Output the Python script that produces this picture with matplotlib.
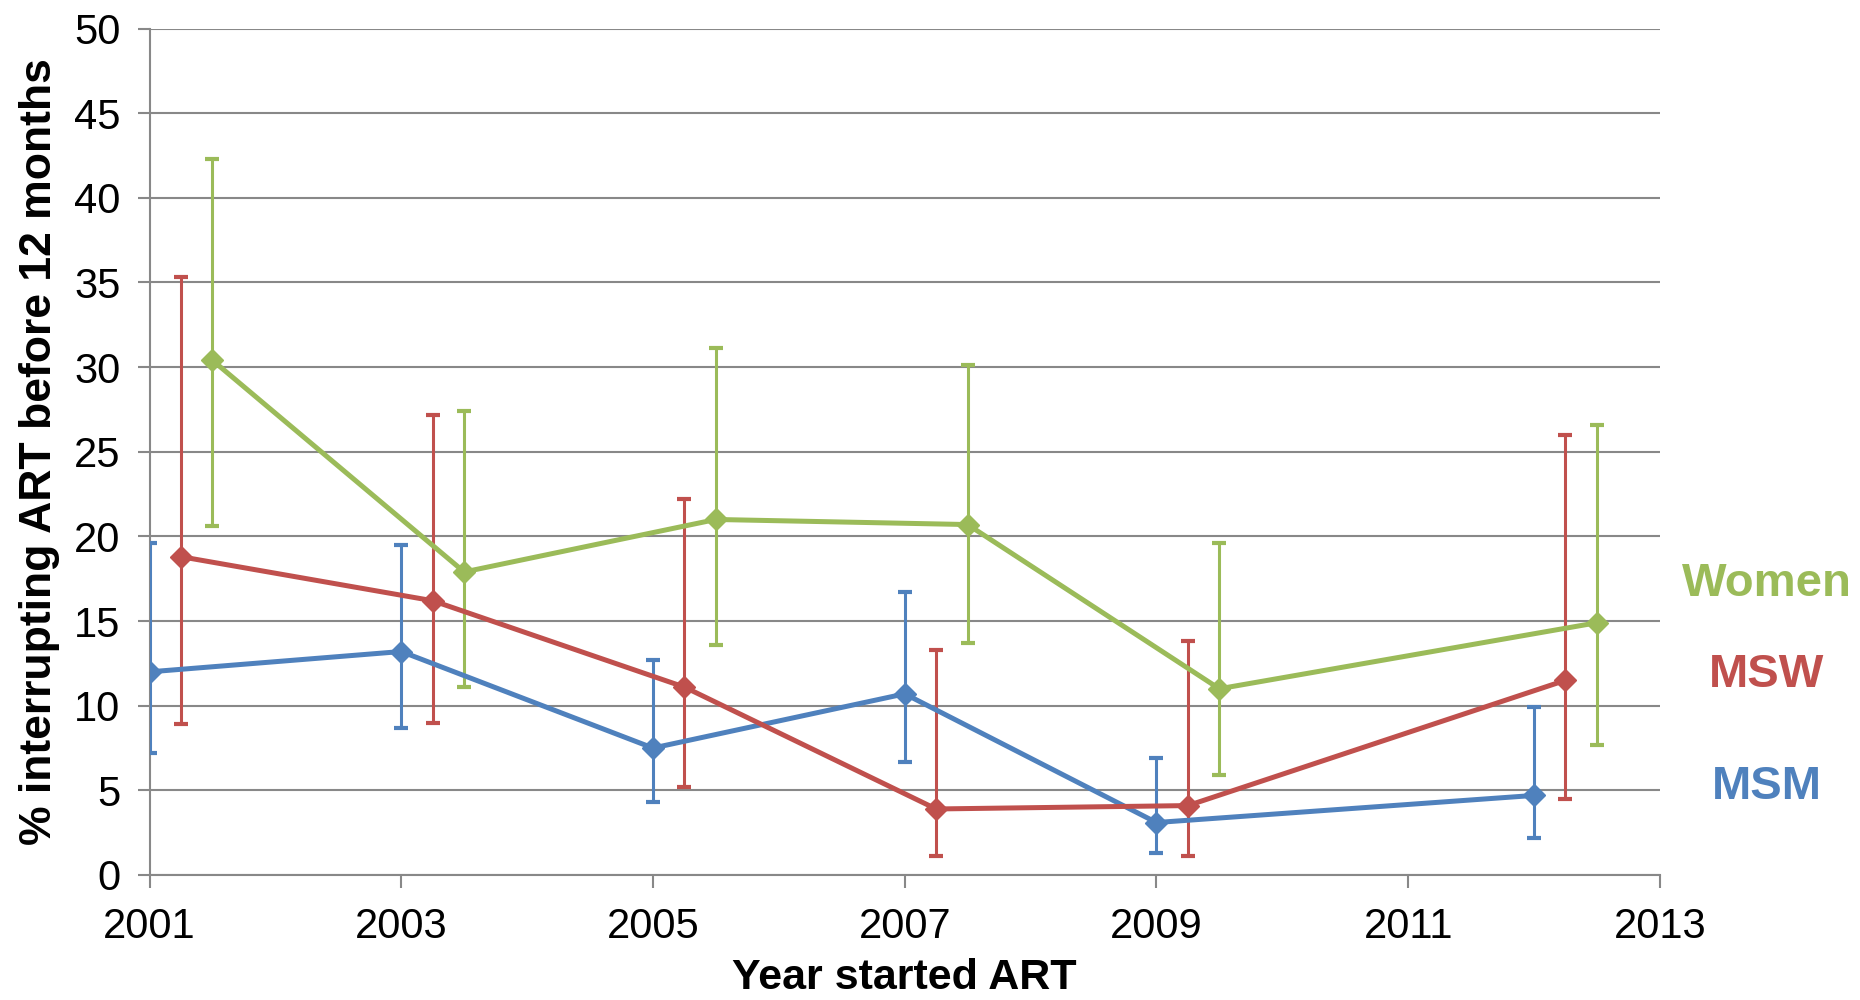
import numpy as np
import matplotlib.pyplot as plt

plt.rcParams["font.family"] = ["Liberation Sans", "DejaVu Sans"]

# year started ART (points are offset a little per group, as in the original)
msm_x = [2001, 2003, 2005, 2007, 2009, 2012]
msw_x = [2001.25, 2003.25, 2005.25, 2007.25, 2009.25, 2012.25]
women_x = [2001.5, 2003.5, 2005.5, 2007.5, 2009.5, 2012.5]

# % interrupting ART before 12 months, with 95% CI
msm_y = [12.0, 13.2, 7.5, 10.7, 3.1, 4.7]
msm_lo = [7.2, 8.7, 4.3, 6.7, 1.3, 2.2]
msm_hi = [19.6, 19.5, 12.7, 16.7, 6.9, 9.9]

msw_y = [18.8, 16.2, 11.1, 3.9, 4.1, 11.5]
msw_lo = [8.9, 9.0, 5.2, 1.1, 1.1, 4.5]
msw_hi = [35.3, 27.2, 22.2, 13.3, 13.8, 26.0]

women_y = [30.4, 17.9, 21.0, 20.7, 11.0, 14.9]
women_lo = [20.6, 11.1, 13.6, 13.7, 5.9, 7.7]
women_hi = [42.3, 27.4, 31.1, 30.1, 19.6, 26.6]

groups = [
    ("MSM", msm_x, msm_y, msm_lo, msm_hi, "#4F81BD", 5.2),
    ("MSW", msw_x, msw_y, msw_lo, msw_hi, "#C0504D", 11.8),
    ("Women", women_x, women_y, women_lo, women_hi, "#9BBB59", 17.2),
]

fig = plt.figure(figsize=(18.6, 10), dpi=100)
ax = fig.add_axes([0.0804, 0.125, 0.812, 0.8465])

for name, x, y, lo, hi, col, label_y in groups:
    y = np.array(y)
    yerr = [y - np.array(lo), np.array(hi) - y]
    ax.errorbar(x, y, yerr=yerr, color=col, lw=3.6, marker="D", ms=11,
                elinewidth=2.2, capsize=5, capthick=3, zorder=3)
    ax.text(2013.85, label_y, name, color=col, fontsize=34, fontweight="bold",
            ha="center", va="center", clip_on=False)

ax.set_xlim(2001, 2013)
ax.set_ylim(0, 50)
ax.set_xticks(range(2001, 2014, 2))
ax.set_yticks(range(0, 51, 5))
ax.yaxis.grid(True, color="#888888", lw=1.5)
ax.set_axisbelow(True)

for s in ["top", "right"]:
    ax.spines[s].set_visible(False)
for s in ["left", "bottom"]:
    ax.spines[s].set_color("#888888")
    ax.spines[s].set_linewidth(1.5)

ax.tick_params(axis="both", colors="#888888", labelcolor="black", labelsize=30,
               width=1.5, length=9)
ax.tick_params(axis="y", pad=12)
ax.tick_params(axis="x", pad=14)

ax.set_xlabel("Year started ART", fontsize=31, fontweight="bold", labelpad=8)
ax.set_ylabel("% interrupting ART before 12 months", fontsize=32,
              fontweight="bold", labelpad=10)

fig.savefig("out.png", dpi=100)
